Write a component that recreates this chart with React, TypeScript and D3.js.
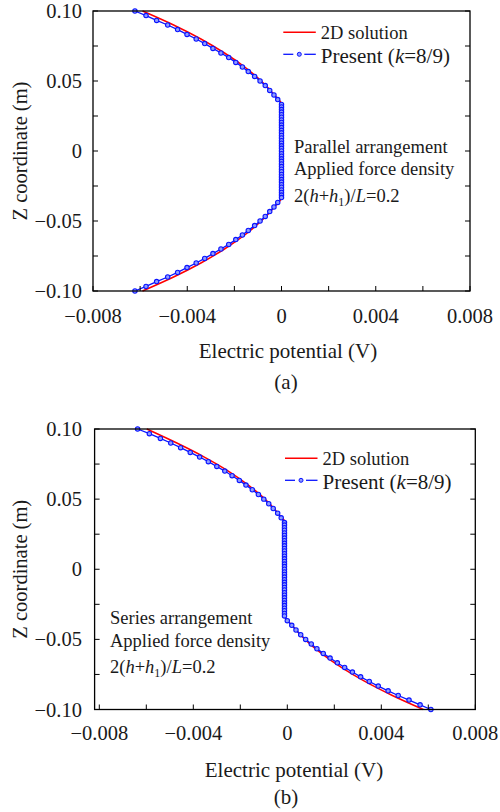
import React from "react";
import * as d3 from "d3";

const FONT = "Liberation Serif, Times New Roman, Times, serif";

// tick values and labels
const xTicks = [-0.008, -0.006, -0.004, -0.002, 0, 0.002, 0.004, 0.006, 0.008];
const xLabelValues = [-0.008, -0.004, 0, 0.004, 0.008];
const xLabels = ["\u22120.008", "\u22120.004", "0", "0.004", "0.008"];
const yTicks = [-0.1, -0.075, -0.05, -0.025, 0, 0.025, 0.05, 0.075, 0.1];
const yLabelValues = [-0.1, -0.05, 0, 0.05, 0.1];
const yLabels = ["\u22120.10", "\u22120.05", "0", "0.05", "0.10"];

// z coordinates of the "Present" markers
const zUpper = [0.1, 0.0967, 0.0933, 0.09, 0.0867, 0.0833, 0.08, 0.0767, 0.0733, 0.07, 0.0667,
  0.0633, 0.06, 0.0567, 0.0533, 0.05, 0.0467, 0.0433, 0.04, 0.0367, 0.0333];
const zColumn = [0.0315, 0.0296, 0.0278, 0.0259, 0.0241, 0.0222, 0.0204, 0.0185, 0.0167, 0.0148,
  0.013, 0.0111, 0.0093, 0.0074, 0.0056, 0.0037, 0.0019, 0, -0.0019, -0.0037, -0.0056, -0.0074,
  -0.0093, -0.0111, -0.013, -0.0148, -0.0167, -0.0185, -0.0204, -0.0222, -0.0241, -0.0259,
  -0.0278, -0.0296, -0.0315];
const zLower = [-0.0333, -0.0367, -0.04, -0.0433, -0.0467, -0.05, -0.0533, -0.0567, -0.06, -0.0633,
  -0.0667, -0.07, -0.0733, -0.0767, -0.08, -0.0833, -0.0867, -0.09, -0.0933, -0.0967, -0.1];

// (a) parallel arrangement
const presentAUpper = [-0.00622, -0.00575, -0.0053, -0.00483, -0.00441, -0.00401, -0.00362, -0.00326,
  -0.00291, -0.00257, -0.00224, -0.00194, -0.00166, -0.00141, -0.00114, -0.00091, -0.00069, -0.0005,
  -0.00032, -0.00016, 0];
const presentAColumn = 0;
const presentALower = [0, -0.00016, -0.00032, -0.0005, -0.00069, -0.00091, -0.00114, -0.00141, -0.00166,
  -0.00194, -0.00224, -0.00257, -0.00291, -0.00326, -0.00362, -0.00401, -0.00441, -0.00483, -0.0053,
  -0.00575, -0.00622];

// (b) series arrangement
const presentBUpper = [-0.00637, -0.00587, -0.0054, -0.00496, -0.00454, -0.00413, -0.00373, -0.00336,
  -0.003, -0.00266, -0.00235, -0.00204, -0.00176, -0.00149, -0.00123, -0.001, -0.00079, -0.0006,
  -0.00041, -0.00026, -0.00012];
const presentBColumn = -0.00012;
const presentBLower = [-0.00012, 0, 0.00019, 0.00037, 0.00057, 0.00078, 0.00102, 0.00126, 0.00153,
  0.00182, 0.00213, 0.00244, 0.00277, 0.00312, 0.00349, 0.00387, 0.00429, 0.00472, 0.00518, 0.00565,
  0.00611];

// 2D solution
const zSolution = [0.1, 0.09, 0.08, 0.07, 0.06, 0.05, 0.04, 0.0333, 0, -0.0333, -0.04, -0.05, -0.06,
  -0.07, -0.08, -0.09, -0.1];
const solutionA = [-0.0059, -0.00458, -0.00342, -0.00242, -0.00156, -0.00086, -0.0003, 0, 0, 0,
  -0.0003, -0.00086, -0.00156, -0.00242, -0.00342, -0.00458, -0.0059];
const solutionB = [-0.00598, -0.0047, -0.00353, -0.00251, -0.00166, -0.00095, -0.0004, -0.0001,
  -0.0001, -0.0001, 0.0002, 0.00075, 0.00145, 0.0023, 0.0033, 0.00447, 0.00579];

const RED = "#ff0000";
const BLUE = "#0a14ff";
const MARK_FILL = "#8f9bff";

const Formula = ({ x, y }) => (
  <text x={x} y={y} fontSize={18.5}>
    2(<tspan fontStyle="italic">h</tspan>+<tspan fontStyle="italic">h</tspan>
    <tspan fontSize={12} dy={4}>1</tspan>
    <tspan dy={-4}>)/</tspan><tspan fontStyle="italic">L</tspan>=0.2
  </text>
);

const Panel = props => {
  const { xDomain, xRange, yRange, upper, colX, lower, solution, legendX, legendY,
    notes, noteX, noteY, formulaY, xLabelY, titleX, titleY, captionX, captionY, caption } = props;

  const x = d3.scaleLinear().domain(xDomain).range(xRange);
  const y = d3.scaleLinear().domain([-0.1, 0.1]).range(yRange);
  const [x0, x1] = xRange;
  const [yb, yt] = yRange;

  const points = [
    ...zUpper.map((z, i) => [upper[i], z]),
    ...zColumn.map(z => [colX, z]),
    ...zLower.map((z, i) => [lower[i], z])
  ];
  const blueLine = d3.line().x(d => x(d[0])).y(d => y(d[1]));
  const redLine = d3.line().x(d => x(d[0])).y(d => y(d[1])).curve(d3.curveMonotoneY);
  const redPts = zSolution.map((z, i) => [solution[i], z]);

  return (
    <g fontFamily={FONT} fill="#1a1a1a">
      <path d={redLine(redPts)} fill="none" stroke={RED} strokeWidth={1.5} />
      <path d={blueLine(points)} fill="none" stroke={BLUE} strokeWidth={1.3} />
      {points.map((d, i) => (
        <circle key={i} cx={x(d[0])} cy={y(d[1])} r={2.2} fill={MARK_FILL} stroke={BLUE} strokeWidth={1.1} />
      ))}

      {/* frame */}
      <rect x={x0} y={yt} width={x1 - x0} height={yb - yt} fill="none" stroke="#000" strokeWidth={1.3} />
      {xTicks.map((t, i) => (
        <line key={`xt${i}`} x1={x(t)} x2={x(t)} y1={yb} y2={yb - 5} stroke="#000" strokeWidth={1} />
      ))}
      {yTicks.map((t, i) => (
        <g key={`yt${i}`}>
          <line x1={x0} x2={x0 + 5} y1={y(t)} y2={y(t)} stroke="#000" strokeWidth={1} />
          <line x1={x1} x2={x1 - 5} y1={y(t)} y2={y(t)} stroke="#000" strokeWidth={1} />
        </g>
      ))}
      {xLabelValues.map((t, i) => (
        <text key={`xl${i}`} x={x(t)} y={xLabelY} fontSize={20.5} textAnchor="middle">{xLabels[i]}</text>
      ))}
      {yLabelValues.map((t, i) => (
        <text key={`yl${i}`} x={82} y={y(t) + 7} fontSize={20.5} textAnchor="end">{yLabels[i]}</text>
      ))}
      <text transform={`translate(27,${(yb + yt) / 2}) rotate(-90)`} fontSize={20.5} textAnchor="middle">Z coordinate (m)</text>
      <text x={titleX} y={titleY} fontSize={21} textAnchor="middle">Electric potential (V)</text>
      <text x={captionX} y={captionY} fontSize={21} textAnchor="middle">{caption}</text>

      {/* legend */}
      <line x1={legendX} x2={legendX + 32.5} y1={legendY} y2={legendY} stroke={RED} strokeWidth={1.5} />
      <text x={legendX + 37.5} y={legendY + 7} fontSize={18.5}>2D solution</text>
      <line x1={legendX} x2={legendX + 10} y1={legendY + 22} y2={legendY + 22} stroke={BLUE} strokeWidth={1.3} />
      <line x1={legendX + 21} x2={legendX + 32.5} y1={legendY + 22} y2={legendY + 22} stroke={BLUE} strokeWidth={1.3} />
      <circle cx={legendX + 16} cy={legendY + 22} r={2} fill={MARK_FILL} stroke={BLUE} strokeWidth={1} />
      <text x={legendX + 37.5} y={legendY + 30.5} fontSize={21}>
        Present (<tspan fontStyle="italic">k</tspan>=8/9)
      </text>

      {/* annotation */}
      {notes.map((s, i) => (
        <text key={`n${i}`} x={noteX} y={noteY + i * 22.5} fontSize={18.5}>{s}</text>
      ))}
      <Formula x={noteX} y={formulaY} />
    </g>
  );
};

const App = () => (
  <svg width={500} height={812} style={{ position: "absolute", left: 0, top: 0 }}>
    <rect width={500} height={812} fill="#fff" />
    <Panel
      xDomain={[-0.008, 0.008]} xRange={[93, 470]} yRange={[291, 11]}
      upper={presentAUpper} colX={presentAColumn} lower={presentALower} solution={solutionA}
      legendX={283.3} legendY={32.3}
      notes={["Parallel arrangement", "Applied force density"]} noteX={294} noteY={152.7} formulaY={202}
      xLabelY={323} titleX={288} titleY={358} captionX={286} captionY={389} caption="(a)"
    />
    <Panel
      xDomain={[-0.0082, 0.008]} xRange={[94.6, 475.3]} yRange={[709.5, 429]}
      upper={presentBUpper} colX={presentBColumn} lower={presentBLower} solution={solutionB}
      legendX={285} legendY={458.3}
      notes={["Series arrangement", "Applied force density"]} noteX={110} noteY={624.3} formulaY={673}
      xLabelY={740} titleX={294} titleY={776.5} captionX={286} captionY={804} caption="(b)"
    />
  </svg>
);

export default App;
